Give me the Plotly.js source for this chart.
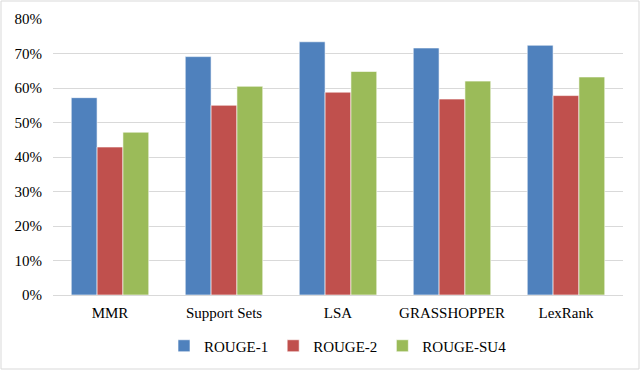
<!DOCTYPE html>
<html>
<head>
<meta charset="utf-8">
<script src="https://cdn.plot.ly/plotly-3.0.1.min.js"></script>
<style>
  html, body { margin: 0; padding: 0; background: #fff; }
  #chart { width: 640px; height: 370px; }
</style>
</head>
<body>
<div id="chart"></div>
<script>
const methods = ['MMR', 'Support Sets', 'LSA', 'GRASSHOPPER', 'LexRank'];
const rouge1 = [0.572, 0.691, 0.734, 0.716, 0.724];
const rouge2 = [0.429, 0.550, 0.588, 0.568, 0.578];
const rougeSU4 = [0.472, 0.605, 0.648, 0.620, 0.632];

const seriesNames = ['ROUGE-1', 'ROUGE-2', 'ROUGE-SU4'];
const seriesColors = ['#4F81BD', '#C0504D', '#9BBB59'];
const seriesValues = [rouge1, rouge2, rougeSU4];

const traces = seriesValues.map((vals, i) => ({
    type: 'bar',
    name: seriesNames[i],
    x: methods,
    y: vals,
    marker: { color: seriesColors[i], line: { color: 'rgba(255,255,255,0.6)', width: 1 } },
    hoverinfo: 'y'
}));

const layout = {
    width: 640,
    height: 370,
    margin: { t: 19, b: 75, l: 53, r: 17, autoexpand: false },
    barmode: 'group',
    bargap: 0.32,
    bargroupgap: 0,
    font: { family: '"Liberation Serif"', size: 15, color: '#000' },
    xaxis: {
        showgrid: false,
        showline: true,
        linecolor: '#d9d9d9',
        ticks: '',
        ticklabelstandoff: 4,
        automargin: false
    },
    yaxis: {
        range: [0, 0.8],
        dtick: 0.1,
        tickformat: '.0%',
        showgrid: true,
        gridcolor: '#d9d9d9',
        gridwidth: 1,
        zeroline: false,
        ticks: '',
        ticklabelstandoff: 10,
        automargin: false
    },
    legend: {
        orientation: 'h',
        x: 0.5,
        xanchor: 'center',
        y: -0.125,
        yanchor: 'top',
        itemwidth: 30,
        tracegroupgap: 0
    },
    shapes: [{
        type: 'rect', xref: 'paper', yref: 'paper',
        x0: -52 / 570, x1: 1 + 16 / 570, y0: -74 / 276, y1: 1 + 18 / 276,
        line: { color: '#d9d9d9', width: 1 }
    }],
    paper_bgcolor: '#fff',
    plot_bgcolor: '#fff'
};

Plotly.newPlot('chart', traces, layout, { displayModeBar: false, staticPlot: true });
</script>
</body>
</html>
